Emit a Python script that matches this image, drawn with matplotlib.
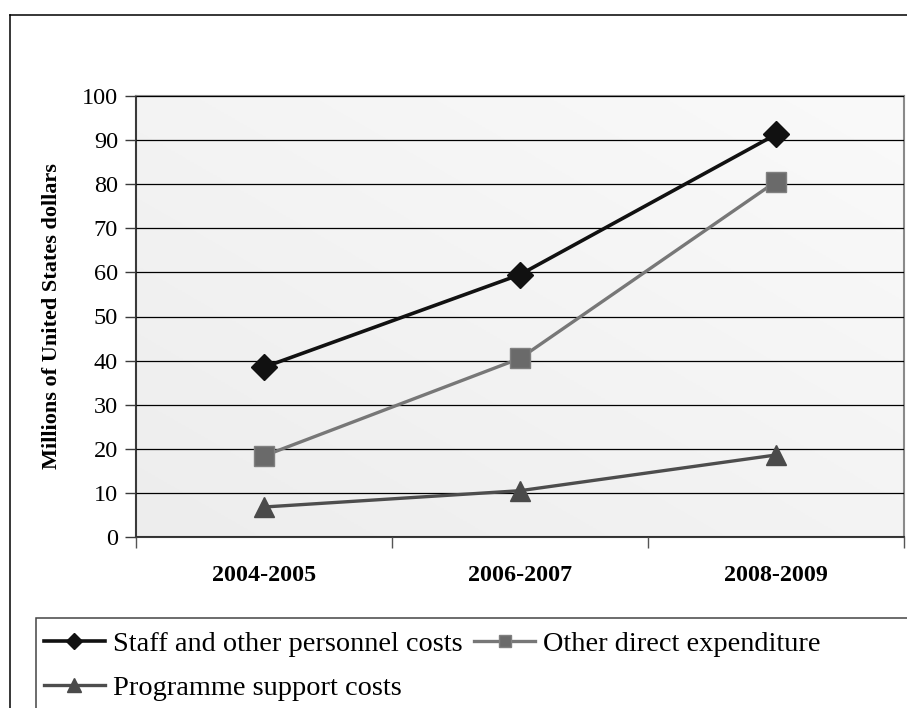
import numpy as np
import matplotlib
matplotlib.use("Agg")
import matplotlib.pyplot as plt
from matplotlib.lines import Line2D
from matplotlib.patches import Rectangle

# ---- data ----
categories = ["2004-2005", "2006-2007", "2008-2009"]
staff = [38.5, 59.5, 91.3]
other_direct = [18.4, 40.5, 80.6]
programme_support = [6.8, 10.5, 18.6]
series_names = ["Staff and other personnel costs", "Other direct expenditure",
                "Programme support costs"]
y_ticks = [0, 10, 20, 30, 40, 50, 60, 70, 80, 90, 100]
y_label = "Millions of United States dollars"

plt.rcParams['font.family'] = ['Liberation Serif', 'DejaVu Serif']

W, H = 907, 708
fig = plt.figure(figsize=(W / 100, H / 100), dpi=100)
fig.patch.set_facecolor("white")

# outer chart frame (right/bottom edges lie outside the image)
fig.add_artist(Line2D([10 / W, 1.0], [1 - 14.5 / H, 1 - 14.5 / H], transform=fig.transFigure,
                      color="black", lw=1.1))
fig.add_artist(Line2D([10 / W, 10 / W], [1 - 14.5 / H, 0.0], transform=fig.transFigure,
                      color="black", lw=1.1))

# plot area
left, right, top, bottom = 136, 904, 96, 537
ax = fig.add_axes([left / W, 1 - bottom / H, (right - left) / W, (bottom - top) / H])

# gradient background
gx, gy = np.meshgrid(np.linspace(0, 1, 200), np.linspace(0, 1, 200))
grad = 0.5 * gx + 0.5 * gy
ax.imshow(grad, extent=[-0.5, 2.5, 0, 100], origin="lower", aspect="auto",
          cmap=matplotlib.colors.LinearSegmentedColormap.from_list(
              "g", ["#ededed", "#fafafa"]), zorder=0)
ax.set_facecolor("#f3f3f3")

x = np.arange(len(categories))
ax.set_xlim(-0.5, 2.5)
ax.set_ylim(0, 100)

# grid
ax.set_yticks(y_ticks)
ax.yaxis.grid(True, color="black", lw=0.9, zorder=1)
ax.set_axisbelow(False)

ax.plot(x, programme_support, color="#4d4d4d", lw=2.4, marker="^", ms=15,
        mfc="#4a4a4a", mec="#4a4a4a", zorder=3, label=series_names[2])
ax.plot(x, other_direct, color="#777777", lw=2.4, marker="s", ms=14,
        mfc="#6a6a6a", mec="#808080", mew=1, zorder=3, label=series_names[1])
ax.plot(x, staff, color="#111111", lw=2.6, marker="D", ms=13,
        mfc="#111111", mec="#111111", zorder=4, label=series_names[0])

# spines
for s in ["left", "bottom"]:
    ax.spines[s].set_color("#3a3a3a")
    ax.spines[s].set_linewidth(1.5)
for s in ["top", "right"]:
    ax.spines[s].set_color("#8a8a8a")
    ax.spines[s].set_linewidth(1.5)

ax.tick_params(axis="y", direction="out", length=8, width=1, color="#3a3a3a",
               pad=5, labelsize=17.5)
ax.set_xticks(x)
ax.set_xticklabels(categories, fontweight="bold", fontsize=17.3)
ax.set_xticks([-0.5, 0.5, 1.5, 2.5], minor=True)
ax.tick_params(axis="x", which="major", length=0, pad=20)
ax.tick_params(axis="x", which="minor", direction="out", length=8, width=1,
               color="#555555")

fig.text(52 / W, 1 - 316 / H, y_label, rotation=90, ha="center", va="center",
         fontsize=16, fontweight="bold")

# legend box (extends beyond the right and bottom edges)
fig.add_artist(Rectangle((36 / W, -0.05), 1.0, (1 - 618 / H) + 0.05,
                         transform=fig.transFigure, fill=False,
                         edgecolor="#444444", lw=1.1))

h_lines = ax.get_lines()
handles = [h_lines[2], h_lines[0], h_lines[1]]
labels = [series_names[0], series_names[2], series_names[1]]
fig.legend(handles, labels, loc="upper left", bbox_to_anchor=(44 / W, 1 - 631 / H),
           ncol=2, frameon=False, fontsize=20.4, handlelength=2.15,
           handletextpad=0.28, columnspacing=0.42, borderaxespad=0, borderpad=0,
           labelspacing=0.65, markerscale=0.65)

fig.savefig("out.png", dpi=100)
